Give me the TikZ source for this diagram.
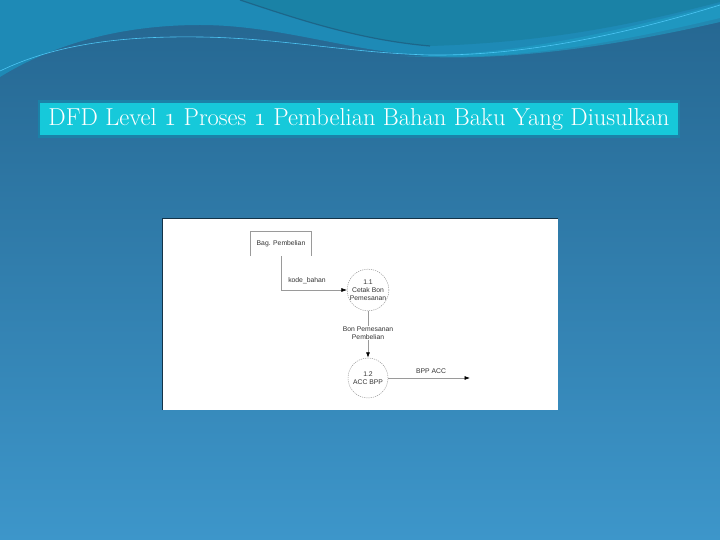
\documentclass[tikz,border=0pt]{standalone}
\usepackage{fontspec}
\newfontfamily\arialfont{Liberation Sans}
\usetikzlibrary{arrows.meta}
\definecolor{bgtop}{HTML}{256690}
\definecolor{bgbot}{HTML}{3D96CA}
\definecolor{wavec}{HTML}{1E8AB6}
\definecolor{wavetop}{HTML}{1A82A6}
\definecolor{wavelite}{HTML}{20A0C8}
\definecolor{titlefill}{HTML}{16C9DA}
\definecolor{titleedge}{HTML}{1B82A8}
\definecolor{linegray}{HTML}{9A9A9A}
\definecolor{txtgray}{HTML}{333333}
\newcommand{\osone}{$\mathnormal{1}$}
\tikzset{
  flow/.style={draw=linegray, line width=0.6pt, -{Latex[length=5.5pt,width=4pt,color=black]}},
  proc/.style={circle, draw=linegray, dashed, dash pattern=on 1.2pt off 1pt, line width=0.5pt, minimum size=40pt, inner sep=0pt, align=center, font=\arialfont\fontsize{6.8}{8}\selectfont, text=txtgray},
  lbl/.style={font=\arialfont\fontsize{6.8}{8}\selectfont, text=txtgray, align=center, inner sep=1pt},
}
\begin{document}
\begin{tikzpicture}[x=1pt,y=-1pt]
\useasboundingbox (0,0) rectangle (720,540);
% background
\shade[top color=bgtop, bottom color=bgbot] (0,0) rectangle (720,540);
% top wave region
\fill[wavec] (0,0) -- (0,77) .. controls (60,40) and (130,25) .. (200,25) .. controls (280,25) and (350,52) .. (430,56) .. controls (520,60) and (620,42) .. (720,18) -- (720,0) -- cycle;
\fill[wavelite, opacity=0.6] (400,56) .. controls (520,56) and (620,30) .. (720,4) -- (720,22) .. controls (620,45) and (520,60) .. (430,57) -- cycle;
\fill[wavetop] (240,0) .. controls (300,20) and (360,40) .. (430,46) .. controls (560,42) and (650,20) .. (720,2) -- (720,0) -- cycle;
\draw[bgtop!80!black, line width=1.2pt, opacity=0.6] (240,0) .. controls (300,20) and (360,40) .. (430,46);
\draw[cyan!70!white, line width=0.6pt] (0,71) .. controls (60,42) and (130,36) .. (200,37) .. controls (280,38) and (350,53) .. (430,55) .. controls (520,56) and (620,36) .. (720,5);
% title
\node[draw=titleedge, line width=2.5pt, fill=titlefill, minimum width=640pt, minimum height=35pt, inner sep=0pt, text=white, font=\fontsize{24.5}{28}\selectfont] (title) at (359,119) {DFD Level \osone{} Proses \osone{} Pembelian Bahan Baku Yang Diusulkan};
% panel
\fill[black!50!bgtop] (162,218) rectangle (558,410);
\fill[white] (163,219) rectangle (558,410);
% external entity
\node[minimum width=61pt, minimum height=25pt, inner sep=0pt, font=\arialfont\fontsize{6.8}{8}\selectfont, text=txtgray] (ent) at (281,243.5) {Bag. Pembelian};
\draw[linegray, line width=0.5pt] (ent.south west) -- (ent.north west) -- (ent.north east) -- (ent.south east);
% processes
\node[proc] (p1) at (368,290) {1.1\\Cetak Bon\\Pemesanan};
\node[proc] (p2) at (368,378) {1.2\\ACC BPP};
\coordinate (out) at (470,378);
% flows
\draw[flow] (ent.south) -- (ent.south |- p1) -- (p1.west);
\node[lbl] (l1) at (307,280.5) {kode\_bahan};
\draw[flow] (p1.south) -- (p2.north);
\node[lbl, fill=white] (l2) at (368,333) {Bon Pemesanan\\Pembelian};
\draw[flow] (p2.east) -- (out);
\node[lbl] (l3) at (431,371) {BPP ACC};
\end{tikzpicture}
\end{document}
